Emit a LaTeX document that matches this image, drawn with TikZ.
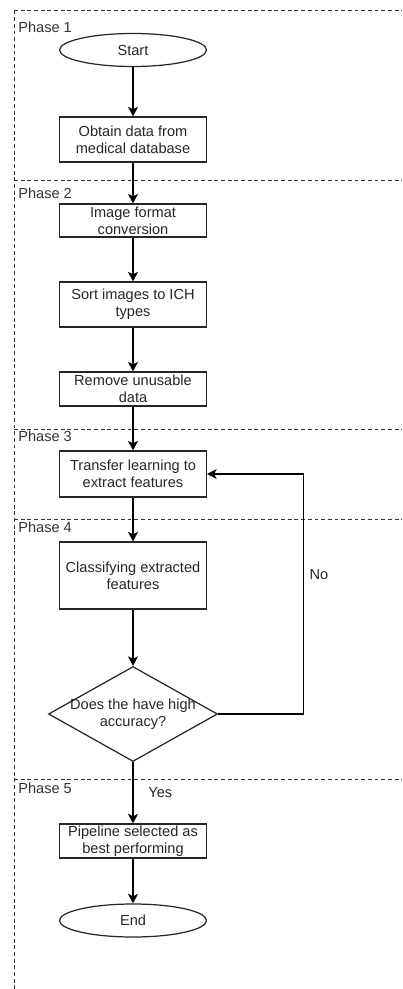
\documentclass[tikz,border=0pt]{standalone}
\usepackage{fontspec}
\setmainfont{Liberation Sans}
\usetikzlibrary{shapes.geometric,arrows.meta}

\tikzset{
  process/.style={draw=black!85, line width=0.7pt, rectangle, minimum width=2.94cm, align=center, inner sep=0pt},
  terminal/.style={draw=black!85, line width=0.7pt, ellipse, minimum width=2.94cm, minimum height=0.66cm, inner sep=0pt},
  decision/.style={draw=black!85, line width=0.7pt, diamond, minimum width=3.38cm, minimum height=1.9cm, inner sep=0pt},
  arrow/.style={line width=0.7pt, -{Stealth[length=1.9mm, width=2mm, inset=0.5mm]}},
  phase/.style={anchor=west, inner sep=0pt, text=black!80},
  sep/.style={black!80, line width=0.5pt, dash pattern=on 2.2pt off 1.6pt}
}

\begin{document}
\begin{tikzpicture}[node distance=1.7cm, font=\fontsize{8.3}{9.8}\selectfont, text=black!85]
        \useasboundingbox (0,0) rectangle (8.04,-19.78);
        % Separa as fases
        \draw[sep] (0.28,-0.21) -- (0.28,-19.78);
        \draw[sep] (0.28,-0.21) -- (8.04,-0.21);
        \draw[sep] (0.28,-3.60) -- (8.04,-3.60);
        \draw[sep] (0.28,-8.58) -- (8.04,-8.58);
        \draw[sep] (0.28,-10.38) -- (8.04,-10.38);
        \draw[sep] (0.28,-15.58) -- (8.04,-15.58);
        \node[phase] (ph1) at (0.36,-0.54) {Phase 1};
        \node[phase] (ph2) at (0.36,-3.86) {Phase 2};
        \node[phase] (ph3) at (0.36,-8.72) {Phase 3};
        \node[phase] (ph4) at (0.36,-10.54) {Phase 4};
        \node[phase] (ph5) at (0.36,-15.76) {Phase 5};
        % Define os nós
        \node[terminal] (start) at (2.66,-1.0) {Start};
        \node[process, minimum height=0.9cm, below of=start, yshift=-0.09cm] (obtain) {Obtain data from\\medical database};
        \node[process, minimum height=0.66cm, below of=obtain, yshift=0.08cm] (convert) {Image format\\conversion};
        \node[process, minimum height=0.9cm, below of=convert, yshift=0.02cm] (sort) {Sort images to ICH\\types};
        \node[process, minimum height=0.68cm, below of=sort, yshift=0.01cm] (remove) {Remove unusable\\data};
        \node[process, minimum height=0.92cm, below of=remove] (transfer) {Transfer learning to\\extract features};
        \node[process, minimum height=1.34cm, below of=transfer, yshift=-0.33cm] (classify) {Classifying extracted\\features};
        \node[decision, below of=classify, yshift=-1.07cm] (decide) {};
        \node[align=center] (question) at (decide.center) {Does the have high\\accuracy?};
        \node[process, minimum height=0.68cm, below of=decide, yshift=-0.84cm] (pipeline) {Pipeline selected as\\best performing};
        \node[terminal, below of=pipeline, yshift=0.11cm] (end) {End};
        % Conecta os nós
        \draw[arrow] (start) -- (obtain);
        \draw[arrow] (obtain) -- (convert);
        \draw[arrow] (convert) -- (sort);
        \draw[arrow] (sort) -- (remove);
        \draw[arrow] (remove) -- (transfer);
        \draw[arrow] (transfer) -- (classify);
        \draw[arrow] (classify) -- (decide);
        \draw[arrow] (decide) -- node[right, xshift=0.18cm] (yes) {Yes} (pipeline);
        \draw[arrow] (pipeline) -- (end);
        % Volta quando a precisão é baixa
        \draw[arrow] (decide.east) -- ++(1.7,0) |- node[pos=0.29, right] (no) {No} (transfer.east);
    \end{tikzpicture}
\end{document}
